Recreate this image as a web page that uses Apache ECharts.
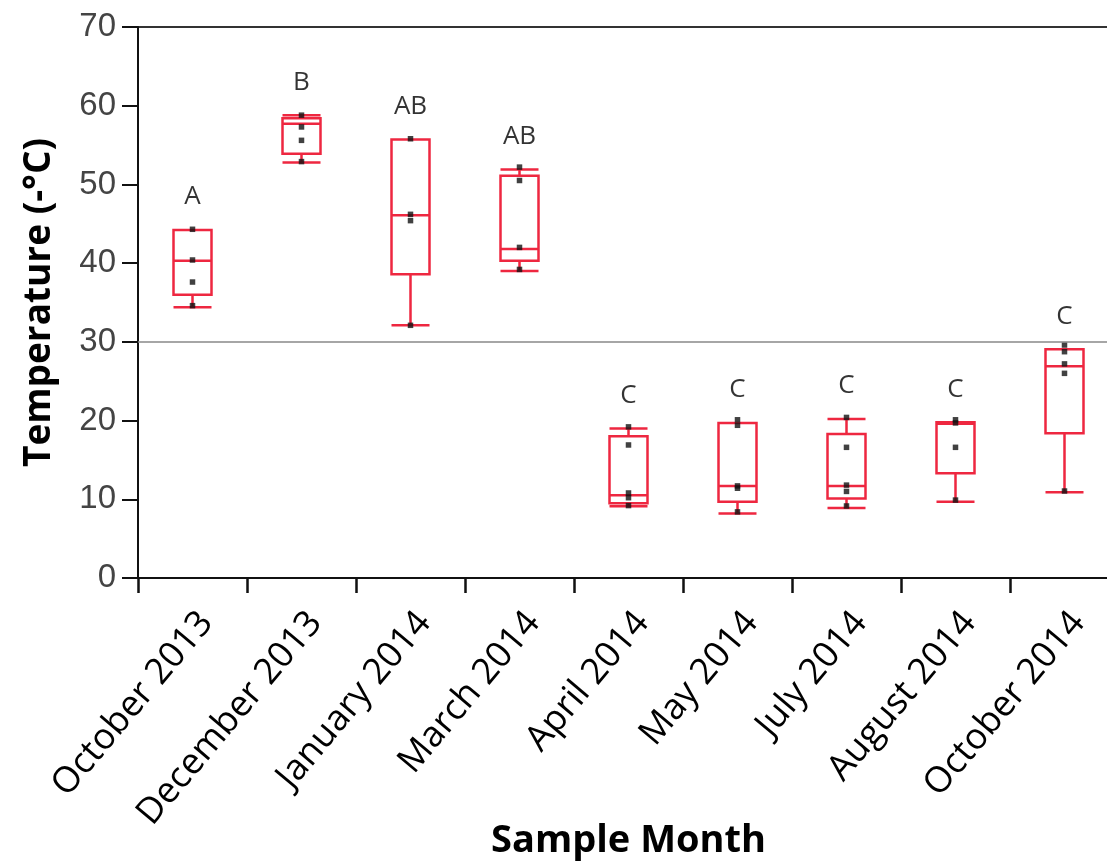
<!DOCTYPE html>
<html>
<head>
<meta charset="utf-8">
<script src="https://cdn.jsdelivr.net/npm/echarts@6/dist/echarts.min.js"></script>
<style>html,body{margin:0;padding:0;background:#fff;}#chart{width:1107px;height:863px;}</style>
</head>
<body>
<div id="chart"></div>
<script>
const categories = ['October 2013','December 2013','January 2014','March 2014','April 2014','May 2014','July 2014','August 2014','October 2014'];
// [lower whisker, Q1, median, Q3, upper whisker]
const boxOct13 = [34.4, 36.0, 40.3, 44.2, 44.2];
const boxDec13 = [52.8, 53.9, 57.7, 58.4, 58.8];
const boxJan14 = [32.1, 38.6, 46.1, 55.7, 55.7];
const boxMar14 = [39.0, 40.3, 41.8, 51.1, 51.9];
const boxApr14 = [9.1, 9.5, 10.5, 18.0, 19.0];
const boxMay14 = [8.2, 9.7, 11.7, 19.7, 19.7];
const boxJul14 = [8.9, 10.1, 11.7, 18.3, 20.2];
const boxAug14 = [9.7, 13.3, 19.6, 19.8, 19.8];
const boxOct14 = [10.9, 18.4, 26.9, 29.05, 29.05];
const boxes = [boxOct13, boxDec13, boxJan14, boxMar14, boxApr14, boxMay14, boxJul14, boxAug14, boxOct14];
// raw observations
const ptsOct13 = [44.3, 40.4, 37.6, 34.6];
const ptsDec13 = [58.8, 57.3, 55.6, 52.9];
const ptsJan14 = [55.8, 46.2, 45.4, 32.1];
const ptsMar14 = [52.2, 50.5, 42.0, 39.2];
const ptsApr14 = [19.2, 16.9, 10.8, 10.2, 9.2];
const ptsMay14 = [20.1, 19.4, 11.7, 11.4, 8.4];
const ptsJul14 = [20.4, 16.6, 11.8, 11.0, 9.15];
const ptsAug14 = [20.1, 19.7, 16.6, 9.9];
const ptsOct14 = [29.6, 28.75, 27.2, 26.0, 11.05];
const points = [ptsOct13, ptsDec13, ptsJan14, ptsMar14, ptsApr14, ptsMay14, ptsJul14, ptsAug14, ptsOct14];
const groupLetters = ['A','B','AB','AB','C','C','C','C','C'];
const yTicks = {min: 0, max: 70, interval: 10};
const refLine = 30;

const RED = '#EE2740';
const scatterData = [];
points.forEach((arr, i) => arr.forEach(v => scatterData.push([i, v])));
const letterData = boxes.map((b, i) => ({value: [i, b[4]], label: {formatter: groupLetters[i]}}));

const chart = echarts.init(document.getElementById('chart'), null, {renderer: 'canvas'});
chart.setOption({
  animation: false,
  backgroundColor: '#fff',
  grid: {left: 138, top: 27, width: 981, height: 551, containLabel: false, outerBoundsMode: 'none',
         show: true, borderColor: '#333', borderWidth: 2, backgroundColor: 'transparent'},
  xAxis: {
    type: 'category', data: categories, boundaryGap: true,
    axisLine: {lineStyle: {color: '#111', width: 2}},
    axisTick: {show: true, length: 15, lineStyle: {color: '#111', width: 2.5}, alignWithLabel: false, interval: 0},
    axisLabel: {interval: 0, rotate: 50, color: '#000', fontFamily: 'Open Sans', fontSize: 36, margin: 27, verticalAlign: 'top'},
    name: 'Sample Month', nameLocation: 'middle', nameGap: 244, nameMoveOverlap: false,
    nameTextStyle: {fontFamily: 'Open Sans', fontWeight: 'bold', fontSize: 38, color: '#000'},
    splitLine: {show: false}
  },
  yAxis: {
    type: 'value', min: yTicks.min, max: yTicks.max, interval: yTicks.interval,
    axisLine: {show: true, lineStyle: {color: '#111', width: 2}},
    axisTick: {show: true, length: 16, lineStyle: {color: '#111', width: 2}},
    axisLabel: {color: '#444', fontFamily: 'Liberation Sans', fontSize: 33, margin: 22},
    splitLine: {show: false},
    name: 'Temperature (-°C)', nameLocation: 'middle', nameGap: 80, nameRotate: 90, nameMoveOverlap: false,
    nameTextStyle: {fontFamily: 'Open Sans', fontWeight: 'bold', fontSize: 37, color: '#000'}
  },
  series: [
    {
      type: 'boxplot', data: boxes, boxWidth: [38, 38],
      itemStyle: {color: 'rgba(255,255,255,0)', borderColor: RED, borderWidth: 2.5},
      emphasis: {disabled: true},
      markLine: {
        silent: true, symbol: 'none', label: {show: false},
        lineStyle: {color: '#888', width: 1.5, type: 'solid'},
        data: [{yAxis: refLine}]
      },
      z: 2
    },
    {
      type: 'scatter', data: scatterData, symbol: 'rect', symbolSize: 5.5,
      itemStyle: {color: '#111'}, z: 3
    },
    {
      type: 'scatter', data: letterData, symbolSize: 0,
      label: {show: true, position: 'top', distance: 20, color: '#000', fontFamily: 'Open Sans', fontSize: 26},
      z: 4
    }
  ]
});
</script>
</body>
</html>
